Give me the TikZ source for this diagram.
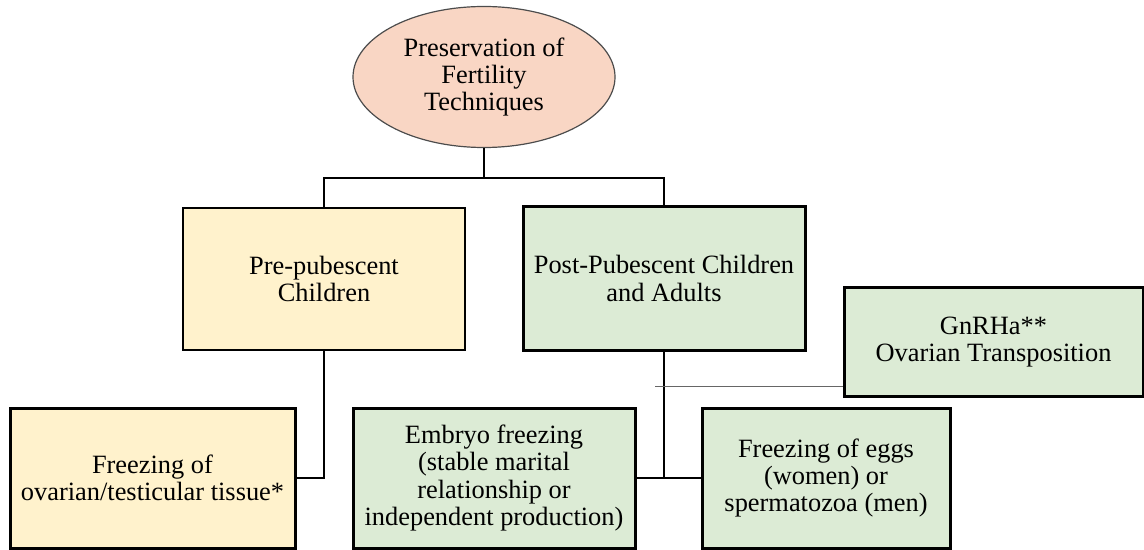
\documentclass[tikz,border=0pt]{standalone}
\usepackage{fontspec}
\setmainfont{Liberation Serif}
\usetikzlibrary{shapes.geometric,positioning}
\definecolor{peachfill}{HTML}{F9D6C4}
\definecolor{yelfill}{HTML}{FFF2CC}
\definecolor{grnfill}{HTML}{DCEBD5}
\begin{document}
\begin{tikzpicture}[x=0.5pt,y=-0.5pt,
	box/.style={draw, align=center, inner sep=0pt, font=\fontsize{13.2}{13.6}\selectfont},
	thinbox/.style={box, line width=0.6pt},
	thickbox/.style={box, line width=1.5pt},
	link/.style={line width=1.4pt},
	faintlink/.style={line width=0.5pt, black!60}]
	\useasboundingbox (0,0) rectangle (1144,550);
	
	\node[thinbox,ellipse,fill=peachfill,draw=black!70,minimum width=131pt,minimum height=70.5pt] (root)at(484,77) {Preservation of\\Fertility\\Techniques};
	\node[thinbox,fill=yelfill,minimum width=141pt,minimum height=71pt] (pre)at(324,279) {Pre-pubescent\\Children};
	\node[thickbox,fill=grnfill,minimum width=141pt,minimum height=71.5pt] (post)at(664,278.5) {Post-Pubescent Children\\and Adults};
	\node[thickbox,fill=grnfill,minimum width=149.5pt,minimum height=54pt] (gnrh)at(993.5,342) {GnRHa**\\Ovarian Transposition};
	\node[thickbox,fill=yelfill,minimum width=142.5pt,minimum height=70pt] (tissue)at(152.5,478) {Freezing of\\ovarian/testicular tissue*};
	\node[thickbox,fill=grnfill,minimum width=141pt,minimum height=70pt] (embryo)at(494,478) {Embryo freezing\\(stable marital\\relationship or\\independent production)};
	\node[thickbox,fill=grnfill,minimum width=124pt,minimum height=70pt] (eggs)at(826,478) {Freezing of eggs\\(women) or\\spermatozoa (men)};
	
	\coordinate (split)at(484,178);
	\coordinate (tap)at(655,386);
	
	\draw[link] (root) -- (split);
	\draw[link] (pre.north) |- (split) -| (post.north);
	\draw[link] (pre.south) |- (tissue.east);
	\draw[link] (post.south) -- (post.south |- embryo.east);
	\draw[link] (embryo.east) -- (eggs.west);
	\draw[faintlink] (tap) -- (tap -| gnrh.west);
\end{tikzpicture}
\end{document}
